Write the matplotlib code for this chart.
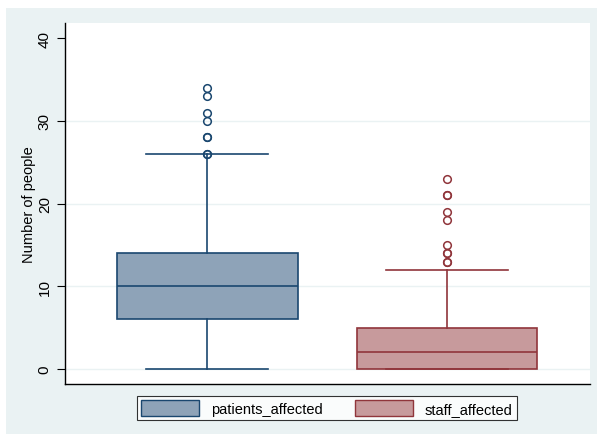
import numpy as np
import matplotlib.pyplot as plt
from matplotlib.patches import Rectangle, Patch

plt.rcParams['font.family'] = ['Liberation Sans', 'DejaVu Sans']

# values
labels = ['patients_affected', 'staff_affected']
whislo = [0, 0]
q1 = [6, 0]
med = [10, 2]
q3 = [14, 5]
whishi = [26, 12]
fliers = [[26, 26, 28, 28, 30, 31, 33, 34],
          [13, 13, 14, 14, 15, 18, 19, 21, 21, 23]]
yticks = [0, 10, 20, 30, 40]

edge_colors = ['#1a476f', '#90353b']
fill_colors = ['#8ea3b8', '#c79a9c']
bg = '#eaf2f3'

fig = plt.figure(figsize=(5.97, 4.35), dpi=100)
fig.patch.set_facecolor('white')
fig.patches.append(Rectangle((6 / 597, 0), 1, 1 - 9 / 435, transform=fig.transFigure,
                             facecolor=bg, edgecolor='none', zorder=-10))

ax = fig.add_axes([65 / 597, 1 - 385 / 435, 525 / 597, 361 / 435])
ax.set_facecolor('white')

stats = []
for i in range(2):
    stats.append(dict(label=labels[i], whislo=whislo[i], q1=q1[i], med=med[i],
                      q3=q3[i], whishi=whishi[i], fliers=fliers[i]))

for i, s in enumerate(stats):
    c = edge_colors[i]
    ax.bxp([s], positions=[i + 1], widths=0.754, patch_artist=True,
           showfliers=True,
           boxprops=dict(facecolor=fill_colors[i], edgecolor=c, linewidth=1.2),
           medianprops=dict(color=c, linewidth=1.2),
           whiskerprops=dict(color=c, linewidth=1.2),
           capprops=dict(color=c, linewidth=1.2),
           capwidths=0.507,
           flierprops=dict(marker='o', markerfacecolor='none', markeredgecolor=c,
                           markersize=5.5, markeredgewidth=1.1))

for t in yticks[:-1]:
    ax.axhline(t, color=bg, linewidth=1, zorder=0)

ax.set_xlim(0.408, 2.596)
ax.set_ylim(-1.81, 41.84)
ax.set_xticks([])
ax.set_yticks(yticks)
ax.set_yticklabels([str(t) for t in yticks], rotation=90, va='center', fontsize=11)
ax.tick_params(axis='y', length=5.5, width=0.8, pad=4)
ax.set_ylabel('Number of people', fontsize=10.5, labelpad=1)

ax.spines['top'].set_visible(False)
ax.spines['right'].set_visible(False)
ax.spines['left'].set_linewidth(1)
ax.spines['bottom'].set_linewidth(1)

handles = [Patch(facecolor=fill_colors[i], edgecolor=edge_colors[i], linewidth=1)
           for i in range(2)]
leg = fig.legend(handles, labels, ncol=2, loc='center', bbox_to_anchor=(327 / 597, 1 - 409 / 435),
                 frameon=True, fancybox=False, fontsize=10.5, handlelength=4.0,
                 handleheight=1.3, columnspacing=2.2, borderpad=0.3, handletextpad=0.8)
leg.get_frame().set_edgecolor('black')
leg.get_frame().set_linewidth(0.8)

fig.savefig('out.png', dpi=100)
